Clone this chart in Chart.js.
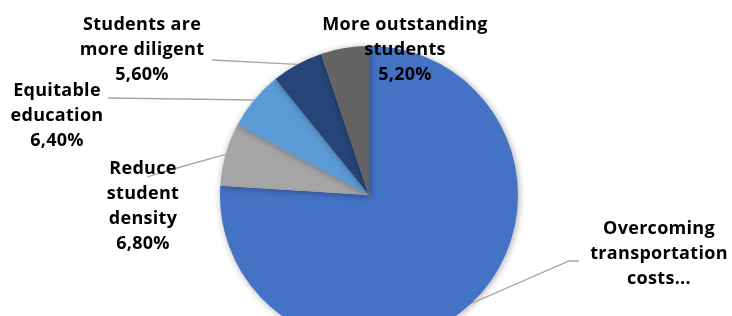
<!DOCTYPE html>
<html>
<head>
<meta charset="utf-8">
<script src="https://cdn.jsdelivr.net/npm/chart.js@4"></script>
<style>
    html, body { margin: 0; padding: 0; background: #fff; overflow: hidden; }
    #frame { width: 732px; height: 316px; overflow: hidden; position: relative; }
    #wrap { width: 732px; height: 345px; position: absolute; left: 0; top: 0; }
</style>
</head>
<body>
<div id="frame"><div id="wrap"><canvas id="pieChart"></canvas></div></div>
<script>
// datos del grafico
const categorias = [
    ['Overcoming', 'transportation', 'costs...'],
    ['Reduce', 'student', 'density'],
    ['Equitable', 'education'],
    ['Students are', 'more diligent'],
    ['More outstanding', 'students']
];
const valores = [76.0, 6.8, 6.4, 5.6, 5.2];
const mostrarPct = [false, true, true, true, true];
const colores = ['#4472C4', '#A5A5A5', '#5B9BD5', '#264478', '#636363'];

// posicion de las etiquetas respecto al centro del pie (solo diseño)
const etiquetas = [
    { dx: 290, dy: 34, linea: [[200, 66], [210, 66]] },
    { dx: -226, dy: -26, linea: [[-192, -27], [-222, -18]] },
    { dx: -312, dy: -104, linea: [[-261, -97]] },
    { dx: -227, dy: -170, linea: [[-157, -135]] },
    { dx: 36, dy: -170, linea: null }
];

const formatoPct = v => v.toFixed(2).replace('.', ',') + '%';

const sombraPlugin = {
    id: 'sombra',
    beforeDatasetDraw(chart) {
        const ctx = chart.ctx;
        ctx.save();
        ctx.shadowColor = 'rgba(0,0,0,0.35)';
        ctx.shadowBlur = 7;
        ctx.shadowOffsetX = 1;
        ctx.shadowOffsetY = 1;
    },
    afterDatasetDraw(chart) {
        chart.ctx.restore();
    }
};

const etiquetasPlugin = {
    id: 'etiquetas',
    afterDatasetsDraw(chart) {
        const ctx = chart.ctx;
        const arcs = chart.getDatasetMeta(0).data;
        ctx.save();
        arcs.forEach((arc, i) => {
            const p = arc.getProps(['x', 'y', 'startAngle', 'endAngle', 'outerRadius'], true);
            const cfg = etiquetas[i];
            const mid = (p.startAngle + p.endAngle) / 2;
            if (cfg.linea) {
                ctx.strokeStyle = '#A6A6A6';
                ctx.lineWidth = 1.3;
                ctx.beginPath();
                ctx.moveTo(p.x + Math.cos(mid) * p.outerRadius, p.y + Math.sin(mid) * p.outerRadius);
                cfg.linea.forEach(pt => ctx.lineTo(p.x + pt[0], p.y + pt[1]));
                ctx.stroke();
            }
            const lineas = categorias[i].slice();
            if (mostrarPct[i]) lineas.push(formatoPct(valores[i]));
            ctx.fillStyle = '#000';
            ctx.font = 'bold 18px "Open Sans"';
            ctx.letterSpacing = '0.3px';
            ctx.textAlign = 'center';
            ctx.textBaseline = 'middle';
            lineas.forEach((t, k) => {
                ctx.fillText(t, p.x + cfg.dx, p.y + cfg.dy + k * 25);
            });
        });
        ctx.restore();
    }
};

new Chart(document.getElementById('pieChart'), {
    type: 'pie',
    data: {
        labels: categorias.map(c => c.join(' ')),
        datasets: [{
            data: valores,
            backgroundColor: colores,
            borderWidth: 0
        }]
    },
    options: {
        responsive: true,
        maintainAspectRatio: false,
        animation: false,
        layout: { padding: { left: 220, right: 214, top: 46, bottom: 1 } },
        plugins: {
            legend: { display: false },
            tooltip: { enabled: false }
        }
    },
    plugins: [sombraPlugin, etiquetasPlugin]
});
</script>
</body>
</html>
